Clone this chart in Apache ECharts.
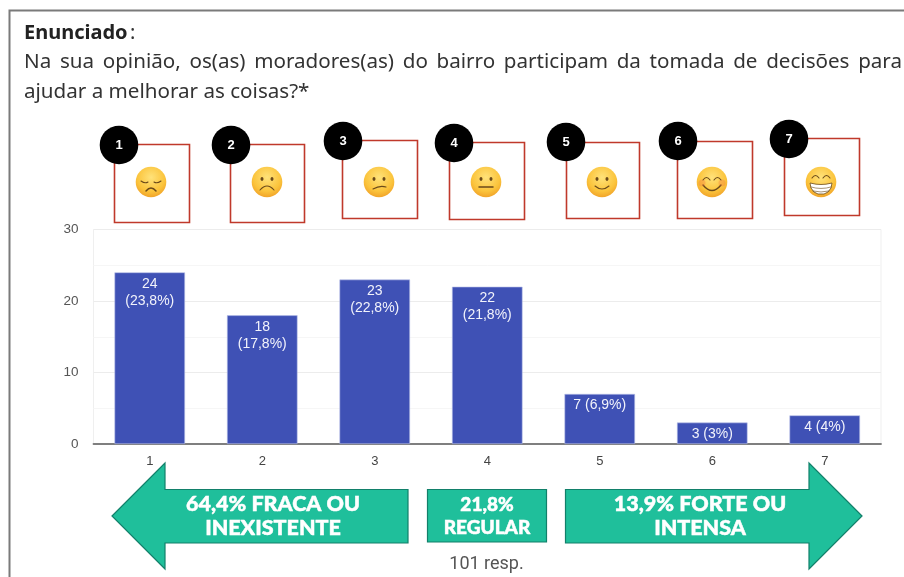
<!DOCTYPE html>
<html><head><meta charset="utf-8">
<style>html,body{margin:0;padding:0;background:#fff}#c{width:904px;height:577px}</style>
<script src="https://cdn.jsdelivr.net/npm/echarts@6/dist/echarts.min.js"></script>
</head><body><div id="c"></div>
<script>
const categories = ['1','2','3','4','5','6','7'];
const values = [24,18,23,22,7,3,4];
const barLabels = ['24\n(23,8%)','18\n(17,8%)','23\n(22,8%)','22\n(21,8%)','7 (6,9%)','3 (3%)','4 (4%)'];
const heading = 'Enunciado';
const line1Words = 'Na sua opinião, os(as) moradores(as) do bairro participam da tomada de decisões para'.split(' ');
const line2 = 'ajudar a melhorar as coisas?*';
const footer = '101 resp.';
const leftArrowText = '64,4% FRACA OU\nINEXISTENTE';
const midText = '21,8%\nREGULAR';
const rightArrowText = '13,9% FORTE OU\nINTENSA';

const boxes = [[114,144,75,78],[230,144,74,78],[342,140,75,78],[449,142,75,77],[566,142,73,76],[677,141,75,77],[784,138,75,77]];
const badges = [[119,145],[231,145],[343,141],[454,143],[566,142],[678,141],[789,139]];
const faces = [151,267,379,486,602,712,821];
const FACE_Y = 182, FACE_R = 15.3;
const RED = '#c0392b', GREEN = '#1fbf9b', GREEN_D = '#12806a';
const TITLE_FONT = '"Noto Sans"';
const TITLE_SIZE = 20.6;

const g = [];
// frame
g.push({type:'polyline',silent:true,shape:{points:[[9.5,577],[9.5,10.5],[904,10.5]]},style:{stroke:'#7a7a7a',lineWidth:2,fill:null}});
// heading
g.push({type:'text',style:{x:24,y:33,text:heading,font:'bold 20px '+TITLE_FONT,fill:'#222',textVerticalAlign:'middle'}});
g.push({type:'text',style:{x:130,y:33,text:':',font:'20px '+TITLE_FONT,fill:'#333',textVerticalAlign:'middle'}});
// justified first line
const mc = document.createElement('canvas').getContext('2d');
mc.font = TITLE_SIZE+'px "Noto Sans"';
const L = 24, R = 902;
const widths = line1Words.map(w => mc.measureText(w).width);
const gap = (R - L - widths.reduce((a,b)=>a+b,0)) / (line1Words.length - 1);
let wx = L;
line1Words.forEach((w,i) => {
  g.push({type:'text',style:{x:wx,y:62,text:w,font:TITLE_SIZE+'px '+TITLE_FONT,fill:'#333',textVerticalAlign:'middle'}});
  wx += widths[i] + gap;
});
g.push({type:'text',style:{x:24,y:92,text:line2,font:TITLE_SIZE+'px '+TITLE_FONT,fill:'#333',textVerticalAlign:'middle'}});

// red boxes + badges
boxes.forEach(b => g.push({type:'rect',shape:{x:b[0]+.5,y:b[1]+.5,width:b[2],height:b[3]},style:{fill:'#fff',stroke:RED,lineWidth:1.6}}));
badges.forEach((b,i) => {
  g.push({type:'circle',shape:{cx:b[0],cy:b[1],r:19.3},style:{fill:'#000'}});
  g.push({type:'text',style:{x:b[0],y:b[1],text:categories[i],font:'bold 13px "Liberation Sans"',fill:'#fff',textAlign:'center',textVerticalAlign:'middle'}});
});

// emoji faces
const FEAT = '#6b4a1a';
function eye(cx,cy){g.push({type:'ellipse',shape:{cx,cy,rx:1.5,ry:1.9},style:{fill:FEAT}});}
function curve(cx,cy,a,w){
  g.push({type:'bezierCurve',shape:{x1:cx+a[0],y1:cy+a[1],cpx1:cx+a[2],cpy1:cy+a[3],x2:cx+a[4],y2:cy+a[5]},style:{fill:null,stroke:FEAT,lineWidth:w||1.1,lineCap:'round'}});
}
faces.forEach((cx,i) => {
  const cy = FACE_Y;
  g.push({type:'circle',shape:{cx,cy,r:FACE_R},style:{fill:{type:'radial',x:.5,y:.35,r:.75,colorStops:[{offset:0,color:'#ffe27a'},{offset:.6,color:'#fbc43c'},{offset:1,color:'#ec9420'}]}}});
  if(i===0){
    curve(cx,cy,[-10,-1,-6,2,-3,0]);curve(cx,cy,[10,-1,6,2,3,0]);
    curve(cx,cy,[-5,9,0,3,5,9],1.5);
  } else if(i===1){
    eye(cx-5,cy-3);eye(cx+5,cy-3);curve(cx,cy,[-7,8,0,0,7,8]);
  } else if(i===2){
    eye(cx-5,cy-3);eye(cx+5,cy-3);curve(cx,cy,[-6,7,1,3,7,5]);
  } else if(i===3){
    eye(cx-5,cy-3);eye(cx+5,cy-3);curve(cx,cy,[-7,5,0,5,7,5],1.5);
  } else if(i===4){
    eye(cx-5,cy-3);eye(cx+5,cy-3);curve(cx,cy,[-7,4,0,10,7,4]);
  } else if(i===5){
    curve(cx,cy,[-9,-2,-5.5,-7,-2,-2]);curve(cx,cy,[9,-2,5.5,-7,2,-2]);
    curve(cx,cy,[-9,3,0,14,9,3],1.4);
    g.push({type:'circle',shape:{cx:cx-10,cy:cy+1,r:3.5},style:{fill:'rgba(240,100,60,0.28)'}});
    g.push({type:'circle',shape:{cx:cx+10,cy:cy+1,r:3.5},style:{fill:'rgba(240,100,60,0.28)'}});
  } else {
    curve(cx,cy,[-9,-4,-5.5,-9,-2,-4]);curve(cx,cy,[9,-4,5.5,-9,2,-4]);
    g.push({type:'polygon',shape:{points:[[cx-11,cy+1],[cx-5,cy+2.2],[cx,cy+2.5],[cx+5,cy+2.2],[cx+11,cy+1],[cx+10,cy+6],[cx+7,cy+10],[cx+3,cy+12],[cx-3,cy+12],[cx-7,cy+10],[cx-10,cy+6]]},style:{fill:'#fff',stroke:FEAT,lineWidth:.8}});
    curve(cx,cy,[-10,5,0,8,10,5],.6);curve(cx,cy,[-8,9,0,11,8,9],.6);
  }
});

// arrows
const arrowStyle = {fill:GREEN,stroke:GREEN_D,lineWidth:1.2};
g.push({type:'polygon',shape:{points:[[112,516],[165,463],[165,489.5],[408,489.5],[408,543],[165,543],[165,569]]},style:arrowStyle});
g.push({type:'rect',shape:{x:427.5,y:489.5,width:119,height:52.5},style:arrowStyle});
g.push({type:'polygon',shape:{points:[[862,516],[809,463],[809,489.5],[565.5,489.5],[565.5,543],[809,543],[809,569]]},style:arrowStyle});
function arrowText(x,t,size){
  t.split('\n').forEach((s,i)=>g.push({type:'text',style:{x,y:504.5+i*23.5,text:s,font:'900 '+size+'px Lato',fill:'#fff',stroke:'#fff',lineWidth:.5,textAlign:'center',textVerticalAlign:'middle'}}));
}
arrowText(273,leftArrowText,21.5);
arrowText(487,midText,19);
arrowText(700,rightArrowText,21.5);
g.push({type:'text',style:{x:486.5,y:564,text:footer,font:'18px Roboto',fill:'#555',textAlign:'center',textVerticalAlign:'middle'}});

const chart = echarts.init(document.getElementById('c'),null,{renderer:'canvas'});
chart.setOption({
  animation:false,
  backgroundColor:'#fff',
  grid:{left:93.5,right:23,top:229.5,bottom:133,show:true,borderColor:'#efefef',borderWidth:1,backgroundColor:'transparent'},
  xAxis:{type:'category',data:categories,axisTick:{show:false},
    axisLine:{lineStyle:{color:'#7f7f7f',width:1.8}},
    axisLabel:{color:'#444',fontFamily:'Liberation Sans',fontSize:13,margin:11}},
  yAxis:{type:'value',min:0,max:30,interval:10,
    axisLine:{show:false},axisTick:{show:false},
    axisLabel:{color:'#555',fontFamily:'Liberation Sans',fontSize:13.5,margin:15,padding:[2,0,0,0]},
    splitLine:{lineStyle:{color:'#ececec'}},
    minorTick:{show:false,splitNumber:2},
    minorSplitLine:{show:true,lineStyle:{color:'#f6f6f6'}}},
  series:[{type:'bar',data:values,barWidth:'62.7%',
    itemStyle:{color:'#3f51b5',borderColor:'#b9c1e8',borderWidth:.6},
    label:{show:true,position:'insideTop',distance:3,color:'#f2f3fb',fontFamily:'Liberation Sans',fontSize:14,lineHeight:17,
      formatter:p=>barLabels[p.dataIndex]}}],
  graphic:{elements:g}
});
</script></body></html>
